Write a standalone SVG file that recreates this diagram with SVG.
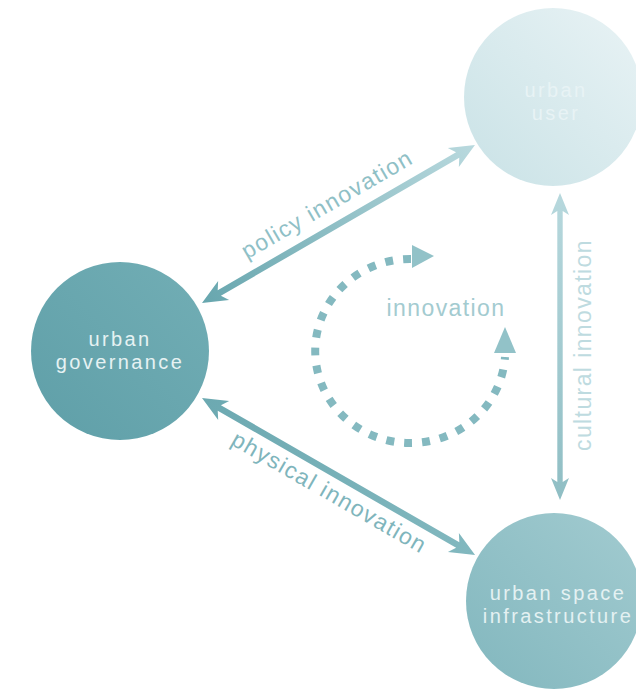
<svg xmlns="http://www.w3.org/2000/svg" width="636" height="691" viewBox="0 0 636 691">
  <defs>
    <linearGradient id="gGov" x1="0" y1="1" x2="1" y2="0">
      <stop offset="0" stop-color="#5f9fa8"/>
      <stop offset="1" stop-color="#72aeb5"/>
    </linearGradient>
    <linearGradient id="gUser" x1="0" y1="1" x2="1" y2="0">
      <stop offset="0" stop-color="#c9e2e6"/>
      <stop offset="1" stop-color="#e9f3f5"/>
    </linearGradient>
    <linearGradient id="gSpace" x1="0" y1="1" x2="1" y2="0">
      <stop offset="0" stop-color="#82b7be"/>
      <stop offset="1" stop-color="#a2cbd0"/>
    </linearGradient>
    <linearGradient id="gPolicy" x1="0" y1="0" x2="1" y2="0">
      <stop offset="0" stop-color="#67a6ae"/>
      <stop offset="1" stop-color="#b9d9de"/>
    </linearGradient>
    <linearGradient id="gPhys" x1="0" y1="0" x2="1" y2="0">
      <stop offset="0" stop-color="#6ca9b1"/>
      <stop offset="1" stop-color="#82b8bf"/>
    </linearGradient>
    <linearGradient id="gCult" x1="0" y1="0" x2="1" y2="0">
      <stop offset="0" stop-color="#b7d8dd"/>
      <stop offset="1" stop-color="#8fbec4"/>
    </linearGradient>
  </defs>
  <style>
    text { font-family: "Liberation Sans", Arial, sans-serif; }
    .node { text-anchor: middle; font-size: 20px; letter-spacing: 2.4px; }
    .lbl { text-anchor: middle; font-size: 23px; letter-spacing: 1.4px; }
  </style>
  <rect width="636" height="691" fill="#ffffff"/>

  <g id="connectors">
    <g id="policy" transform="translate(202,303) rotate(-30.06)">
      <polygon fill="url(#gPolicy)" points="0,0 25,-11 20,-3.2 295.4,-3.2 290.4,-11 315.4,0 290.4,11 295.4,3.2 20,3.2 25,11"/>
      <text class="lbl" x="157.7" y="-15" fill="#8fc0c6">policy innovation</text>
    </g>
    <g id="physical" transform="translate(202,398) rotate(29.9)">
      <polygon fill="url(#gPhys)" points="0,0 25,-11 20,-3.2 295,-3.2 290,-11 315,0 290,11 295,3.2 20,3.2 25,11"/>
      <text class="lbl" x="157.5" y="26" fill="#7fb5bc">physical innovation</text>
    </g>
    <g id="cultural" transform="translate(560,193) rotate(90)">
      <polygon fill="url(#gCult)" points="0,0 22,-9 18,-2.7 289,-2.7 285,-9 307,0 285,9 289,2.7 18,2.7 22,9"/>
    </g>
    <text class="lbl" transform="translate(591,345) rotate(-90)" fill="#bedbe0">cultural innovation</text>
    <g id="cycle">
      <path d="M 411,259 A 95 92 0 1 0 505,357" fill="none" stroke="#84b9c0" stroke-width="8" stroke-dasharray="8 10"/>
      <polygon fill="#92c2c8" points="412,245 434,256 412,268"/>
      <polygon fill="#92c2c8" points="494,353 505,327 516,353"/>
      <text class="lbl" x="446" y="316" fill="#a3cbd0">innovation</text>
    </g>
  </g>

  <g id="urban-governance">
    <circle cx="120" cy="351" r="89" fill="url(#gGov)"/>
    <text class="node" fill="#e6f2f3"><tspan x="120" y="346">urban</tspan><tspan x="120" y="369">governance</tspan></text>
  </g>
  <g id="urban-user">
    <circle cx="553" cy="97" r="89" fill="url(#gUser)"/>
    <text class="node" fill="#e8f3f5"><tspan x="556" y="97">urban</tspan><tspan x="556" y="120">user</tspan></text>
  </g>
  <g id="urban-space-infrastructure">
    <circle cx="554" cy="601" r="88" fill="url(#gSpace)"/>
    <text class="node" fill="#e4f1f2"><tspan x="558" y="600">urban space</tspan><tspan x="558" y="623">infrastructure</tspan></text>
  </g>
</svg>
